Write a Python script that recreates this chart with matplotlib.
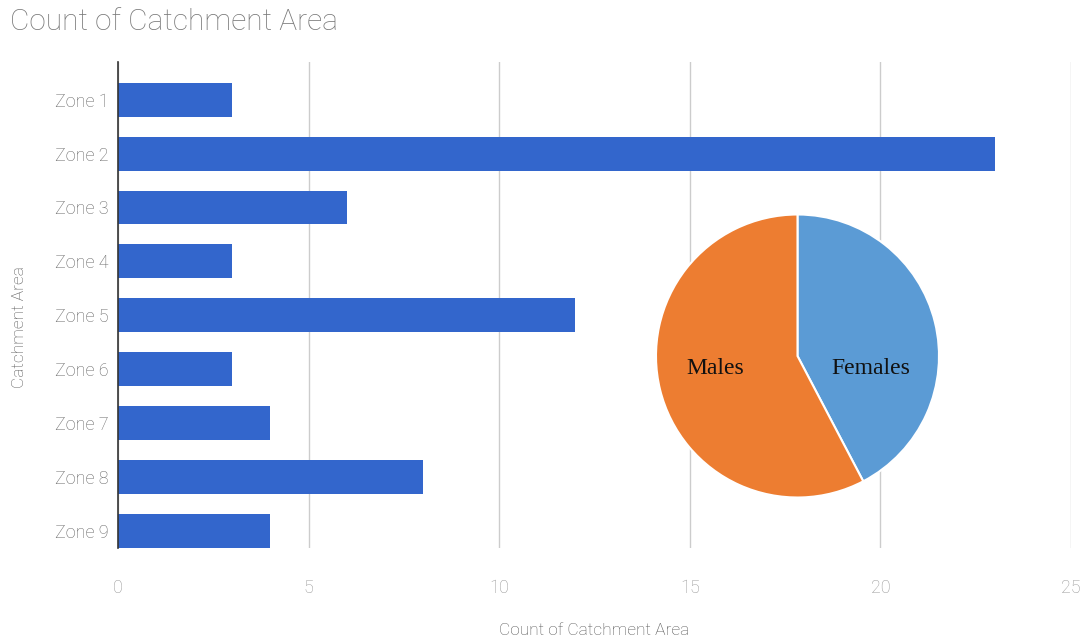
import matplotlib
matplotlib.use("Agg")
import matplotlib.pyplot as plt

# bar data
zones = ['Zone 1', 'Zone 2', 'Zone 3', 'Zone 4', 'Zone 5',
         'Zone 6', 'Zone 7', 'Zone 8', 'Zone 9']
counts = [3, 23, 6, 3, 12, 3, 4, 8, 4]
xticks = [0, 5, 10, 15, 20, 25]

# pie data
sexes = ['Females', 'Males']
sex_counts = [11, 15]
sex_colors = ['#5B9BD5', '#ED7D31']

plt.rcParams['font.family'] = ['Roboto', 'DejaVu Sans']
plt.rcParams['font.weight'] = 'light'
plt.rcParams['axes.labelweight'] = 'light'

fig = plt.figure(figsize=(10.89, 6.44), dpi=100)
ax = fig.add_axes([118/1089, 1-548/644, (1071-118)/1089, (548-62)/644])

ypos = list(range(len(zones)))
ax.barh(ypos, counts, height=0.63, color='#3366CC', zorder=3)
ax.set_ylim(8.32, -0.7)
ax.set_xlim(0, 25)
ax.set_yticks(ypos)
ax.set_yticklabels(zones)
ax.set_xticks(xticks)
ax.grid(axis='x', color='#cccccc', linewidth=1, zorder=0)
for s in ['top', 'right', 'bottom']:
    ax.spines[s].set_visible(False)
ax.spines['left'].set_color('#333333')
ax.spines['left'].set_linewidth(1.2)
ax.spines['left'].set_zorder(4)
ax.tick_params(axis='y', length=0, pad=7, labelsize=13, labelcolor='#666666')
ax.tick_params(axis='x', length=0, pad=22, labelsize=13, labelcolor='#999999')
ax.set_xlabel('Count of Catchment Area', fontsize=12.5, color='#555555', labelpad=19)
ax.set_ylabel('Catchment Area', fontsize=12.5, color='#555555')
ax.yaxis.set_label_coords(-91/953, 0.455)

fig.text(10/1089, 1-22/644, 'Count of Catchment Area', fontsize=21.5,
         color='#777777', va='center', ha='left')

# inset pie
pax = fig.add_axes([650/1089, 1-506/644, 295/1089, 300/644], zorder=5)
pax.set_facecolor('white')
wedges, _ = pax.pie(sex_counts, colors=sex_colors, startangle=90, counterclock=False,
                    wedgeprops=dict(edgecolor='white', linewidth=1.5))
pax.set_aspect('equal')
pax.set_xlim(-1.04, 1.04)
pax.set_ylim(-1.06, 1.06)
for s in pax.spines.values():
    s.set_visible(False)
pax.set_xticks([])
pax.set_yticks([])
pax.text(0.52, -0.09, sexes[0], fontsize=17, family='Liberation Serif',
         ha='center', va='center', color='#111111')
pax.text(-0.58, -0.09, sexes[1], fontsize=17, family='Liberation Serif',
         ha='center', va='center', color='#111111')

fig.savefig('out.png', dpi=100, facecolor='white')
